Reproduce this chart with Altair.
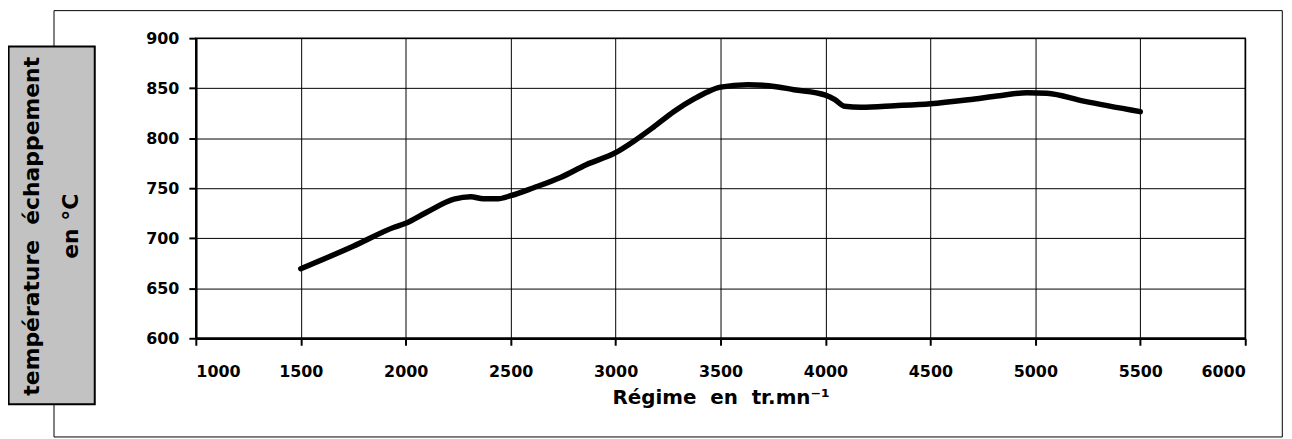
import altair as alt
import pandas as pd

# --- data ---
regime = [1500, 1750, 1945, 2000, 2100, 2230, 2310, 2370, 2440, 2500,
          2610, 2740, 2860, 3000, 3080, 3180, 3280, 3380, 3440, 3500,
          3630, 3730, 3850, 4000, 4045, 4090, 4170, 4330, 4500, 4680,
          4830, 4960, 5055, 5230, 5500]
temperature = [669.5, 692, 711, 715, 726, 739, 741.5, 739.5, 739.5, 742.5,
               750.5, 761, 773.5, 785.5, 796, 811, 827, 840, 846.5, 851,
               853.5, 852.5, 848.5, 843, 838.5, 832, 831, 832.5, 834.5, 838.5,
               842.5, 845.5, 845, 837, 826.5]

x_ticks = [1000, 1500, 2000, 2500, 3000, 3500, 4000, 4500, 5000, 5500, 6000]
y_ticks = [600, 650, 700, 750, 800, 850, 900]

SP = "\u00a0\u00a0"
x_title = "Régime" + SP + "en" + SP + "tr.mn⁻¹"
y_title_lines = ["température" + SP + "échappement", "en" + "\u00a0" + "°C"]

df = pd.DataFrame({"regime": regime, "temperature": temperature})
one = pd.DataFrame({"k": [0]})

FONT = "DejaVu Sans"

line = alt.Chart(df).mark_line(
    color="black", strokeWidth=5.5, interpolate="monotone", strokeCap="round", strokeJoin="round"
).encode(
    x=alt.X("regime:Q",
            scale=alt.Scale(domain=[1000, 6000], nice=False, zero=False),
            axis=alt.Axis(values=x_ticks, format="d", title=x_title,
                          labelPadding=18, titleY=66, titleBaseline="alphabetic",
                          titleFontSize=20, titleFont=FONT, titleFontWeight="bold",
                          titleColor="black")),
    y=alt.Y("temperature:Q",
            scale=alt.Scale(domain=[600, 900], nice=False, zero=False),
            axis=alt.Axis(values=y_ticks, format="d", title="", labelPadding=10)),
)

frame = alt.Chart(one).mark_rect(
    fill="white", fillOpacity=0, stroke="black", strokeWidth=1
).encode(
    x=alt.value(-142.7), x2=alt.value(1093.3),
    y=alt.value(-27.7), y2=alt.value(401.3),
)

box = alt.Chart(one).mark_rect(
    fill="#c2c2c2", stroke="black", strokeWidth=2
).encode(
    x=alt.value(-188.4), x2=alt.value(-101.7),
    y=alt.value(8.3), y2=alt.value(368.3),
)

ytitle = alt.Chart(one).mark_text(
    text=y_title_lines, angle=270, font=FONT, fontWeight="bold", fontSize=22,
    lineHeight=39, align="center", baseline="middle", color="black"
).encode(
    x=alt.value(-164.5), y=alt.value(189.3),
)

chart = alt.layer(frame, line, box, ytitle).properties(
    width=1056, height=302,
    padding={"left": 189, "top": 29, "right": 39, "bottom": 100},
    autosize=alt.AutoSizeParams(type="none"),
    background="white",
).configure_view(
    stroke="black", strokeWidth=1.5
).configure_axis(
    labelFont=FONT, labelFontWeight="bold", labelFontSize=16, labelColor="black",
    domainColor="black", domainWidth=2.5,
    tickColor="black", tickWidth=2, tickSize=7,
    gridColor="black", gridWidth=1, gridOpacity=1,
)

chart.save("out.html", embed_options={"renderer": "svg", "actions": False})
